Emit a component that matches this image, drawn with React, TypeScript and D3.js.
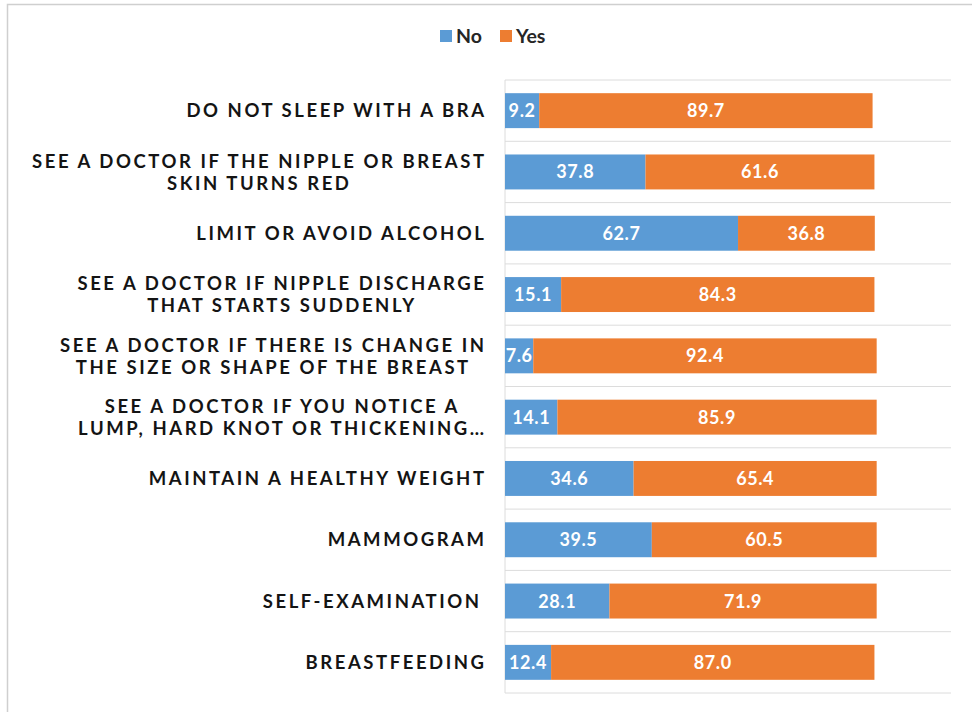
import React, { useEffect, useRef } from 'react';
import * as d3 from 'd3';

const categories = [
  'DO NOT SLEEP WITH A BRA',
  'SEE A DOCTOR IF THE NIPPLE OR BREAST\nSKIN TURNS RED',
  'LIMIT OR AVOID ALCOHOL',
  'SEE A DOCTOR IF NIPPLE DISCHARGE\nTHAT STARTS SUDDENLY',
  'SEE A DOCTOR IF THERE IS CHANGE IN\nTHE SIZE OR SHAPE OF THE BREAST',
  'SEE A DOCTOR IF YOU NOTICE A\nLUMP, HARD KNOT OR THICKENING…',
  'MAINTAIN A HEALTHY WEIGHT',
  'MAMMOGRAM',
  'SELF-EXAMINATION',
  'BREASTFEEDING',
];
const noValues = [9.2, 37.8, 62.7, 15.1, 7.6, 14.1, 34.6, 39.5, 28.1, 12.4];
const yesValues = [89.7, 61.6, 36.8, 84.3, 92.4, 85.9, 65.4, 60.5, 71.9, 87.0];
const seriesNames = ['No', 'Yes'];
const seriesColors = ['#5B9BD5', '#ED7D31'];

const W = 972;
const H = 712;
const FONT = 'Lato, "Open Sans", sans-serif';

export default function App() {
  const ref = useRef<SVGSVGElement | null>(null);

  useEffect(() => {
    const svg = d3.select(ref.current);
    svg.selectAll('*').remove();

    // frame
    svg.append('rect').attr('x', 0).attr('y', 0).attr('width', W).attr('height', H).attr('fill', '#fff');
    svg.append('path').attr('d', `M7.5,${H} V4.5 H${W}`).attr('fill', 'none').attr('stroke', '#cfcfcf').attr('stroke-width', 1.5);

    const x = d3.scaleLinear().domain([0, 120]).range([505, 951]);
    const y = d3.scaleBand<number>()
      .domain(d3.range(categories.length))
      .range([80, 693])
      .paddingInner(0.43)
      .paddingOuter(0.215);
    const step = y.step();

    // separators
    const sepG = svg.append('g');
    for (let i = 0; i <= categories.length; i++) {
      const yy = 80 + i * step;
      sepG.append('line').attr('x1', x(0)).attr('x2', x(120)).attr('y1', yy).attr('y2', yy)
        .attr('stroke', '#dcdcdc').attr('stroke-width', 1);
    }
    svg.append('line').attr('x1', x(0)).attr('x2', x(0)).attr('y1', 80).attr('y2', 693)
      .attr('stroke', '#dcdcdc').attr('stroke-width', 1);

    // bars
    const stacked = categories.map((c, i) => [
      { s: 0, x0: 0, x1: noValues[i], v: noValues[i] },
      { s: 1, x0: noValues[i], x1: noValues[i] + yesValues[i], v: yesValues[i] },
    ]);
    const rows = svg.append('g').selectAll('g').data(stacked).join('g')
      .attr('transform', (_d, i) => `translate(0,${y(i)})`);
    rows.selectAll('rect').data((d) => d).join('rect')
      .attr('x', (d) => x(d.x0))
      .attr('width', (d) => x(d.x1) - x(d.x0))
      .attr('y', 0)
      .attr('height', y.bandwidth())
      .attr('fill', (d) => seriesColors[d.s]);
    rows.selectAll('text').data((d) => d).join('text')
      .attr('x', (d) => (x(d.x0) + x(d.x1)) / 2)
      .attr('y', y.bandwidth() / 2)
      .attr('dy', '0.36em')
      .attr('text-anchor', 'middle')
      .attr('fill', '#fff')
      .attr('font-family', FONT)
      .attr('font-weight', 700)
      .attr('font-size', 18)
      .attr('letter-spacing', 0.6)
      .text((d) => d.v.toFixed(1));

    // category labels
    const labG = svg.append('g');
    const right = 484;
    const LS = 2.55;
    categories.forEach((c, i) => {
      const lines = c.split('\n');
      const cy = (y(i) as number) + y.bandwidth() / 2;
      const texts = lines.map((ln, k) =>
        labG.append('text')
          .attr('font-family', FONT)
          .attr('font-weight', 700)
          .attr('font-size', 18.5)
          .attr('letter-spacing', LS)
          .attr('fill', '#141414')
          .attr('y', cy + (k - (lines.length - 1) / 2) * 22)
          .attr('dy', '0.36em')
          .text(ln)
      );
      const widths = texts.map((t) => (t.node() as SVGTextElement).getComputedTextLength() - LS);
      const maxW = Math.max(...widths);
      const extra = c === 'SELF-EXAMINATION' ? 5 : 0;
      texts.forEach((t, k) => {
        const left = right - extra - maxW + (maxW - widths[k]) / 2;
        t.attr('x', left);
      });
    });

    // legend
    const lg = svg.append('g');
    const items = [
      { x: 440, name: seriesNames[0], color: seriesColors[0] },
      { x: 500, name: seriesNames[1], color: seriesColors[1] },
    ];
    items.forEach((it) => {
      lg.append('rect').attr('x', it.x).attr('y', 30).attr('width', 12).attr('height', 12).attr('fill', it.color);
      lg.append('text').attr('x', it.x + 16).attr('y', 36).attr('dy', '0.36em')
        .attr('font-family', FONT).attr('font-weight', 700).attr('font-size', 19.5)
        .attr('fill', '#262626').text(it.name);
    });
  }, []);

  return (
    <svg
      ref={ref}
      width={W}
      height={H}
      style={{ position: 'absolute', left: 0, top: 0, display: 'block' }}
    />
  );
}
